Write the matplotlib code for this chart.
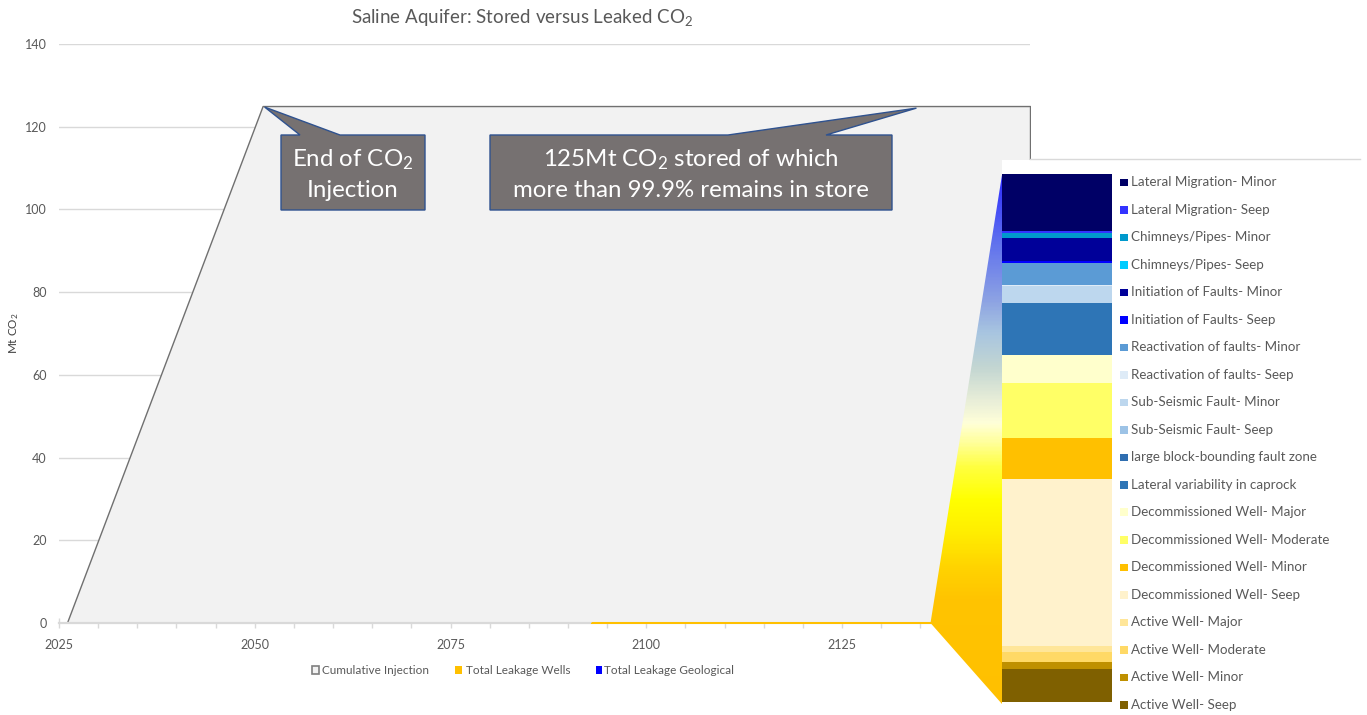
import numpy as np
import matplotlib
matplotlib.use("Agg")
import matplotlib.pyplot as plt
from matplotlib.patches import Polygon, Rectangle
from matplotlib.colors import LinearSegmentedColormap

plt.rcParams['font.family'] = ['Lato', 'DejaVu Sans']
plt.rcParams['mathtext.default'] = 'regular'

W, H = 1367, 715

# Cumulative CO2 injected into the saline aquifer (Mt CO2)
inj_years = [2026, 2051, 2149]
inj_mt = [0, 125, 125]

# Cumulative leakage (Mt CO2)
wells_years = [2093, 2149]
wells_mt = [0.0, 0.066]
geo_years = [2110, 2149]
geo_mt = [0.0, 0.034]

x_labels = [2025, 2050, 2075, 2100, 2125]
y_ticks = [0, 20, 40, 60, 80, 100, 120, 140]

# Leakage breakdown by pathway (kt CO2), bottom of the stack first
pathways = [
    "Active Well- Seep", "Active Well- Minor", "Active Well- Moderate",
    "Active Well- Major", "Decommissioned Well- Seep",
    "Decommissioned Well- Minor", "Decommissioned Well- Moderate",
    "Decommissioned Well- Major", "Lateral variability in caprock",
    "large block-bounding fault zone", "Sub-Seismic Fault- Seep",
    "Sub-Seismic Fault- Minor", "Reactivation of faults- Seep",
    "Reactivation of faults- Minor", "Initiation of Faults- Seep",
    "Initiation of Faults- Minor", "Chimneys/Pipes- Seep",
    "Chimneys/Pipes- Minor", "Lateral Migration- Seep",
    "Lateral Migration- Minor",
]
leak_kt = [6.1, 1.4, 1.9, 1.1, 31.6, 7.9, 10.3, 5.4, 9.7, 0.06, 0.1,
           3.1, 0.3, 4.1, 0.3, 4.35, 0.06, 0.95, 0.44, 10.7]
pathway_colors = [
    "#7F6000", "#BF9000", "#FFD966", "#FFE699", "#FFF2CC", "#FFC000",
    "#FFFF66", "#FFFFCC", "#2E75B6", "#2F6EB0", "#9DC3E6", "#BDD7EE",
    "#DEEBF7", "#5B9BD5", "#0000FF", "#000099", "#00CCFF", "#0099CC",
    "#3333FF", "#000066",
]

GREY_TXT = "#595959"

fig = plt.figure(figsize=(W / 100, H / 100), dpi=100)
fig.patch.set_facecolor("white")


def px_box(x0, y0, x1, y1):
    """Figure-fraction rect from pixel corners (y measured from top)."""
    return [x0 / W, 1 - y1 / H, (x1 - x0) / W, (y1 - y0) / H]


# ---- main time-series chart -------------------------------------------
ax = fig.add_axes(px_box(59, 44, 1030, 623))
ax.set_xlim(2025, 2149)
ax.set_ylim(0, 140)
ax.set_facecolor("none")

ax.fill_between(inj_years, inj_mt, facecolor="#F2F2F2", edgecolor="#707070",
                lw=1.0, zorder=2)
ax.fill_between(geo_years, geo_mt, facecolor="#0000FF", edgecolor="#0000FF",
                lw=1.0, zorder=3)
ax.fill_between(wells_years, wells_mt, facecolor="#FFC000", edgecolor="#FFC000",
                lw=1.6, zorder=4)

ax.set_yticks(y_ticks)
ax.yaxis.grid(True, color="#D9D9D9", lw=1.0)
ax.set_axisbelow(True)
ax.tick_params(axis="y", length=0, labelsize=9, labelcolor=GREY_TXT, pad=9)

minor_years = list(range(2025, 2146, 5))
ax.set_xticks(minor_years)
ax.set_xticklabels([str(y) if y in x_labels else "" for y in minor_years])
ax.tick_params(axis="x", direction="inout", length=7, width=1, color="#D9D9D9",
               labelsize=9, labelcolor=GREY_TXT, pad=8)
for s in ("top", "right", "left"):
    ax.spines[s].set_visible(False)
ax.spines["bottom"].set_color("#D9D9D9")
ax.spines["bottom"].set_linewidth(1.6)
ax.spines["bottom"].set_zorder(3)

fig.text(522 / W, 1 - 17 / H, "Saline Aquifer: Stored versus Leaked CO$_2$",
         ha="center", va="center", fontsize=13.5, color=GREY_TXT)
fig.text(14 / W, 1 - 333 / H, "Mt CO$_2$", rotation=90, ha="center",
         va="center", fontsize=8.5, color="#404040")

# ---- overlay in pixel coordinates for callouts, zoom wedge, legends -----
ov = fig.add_axes([0, 0, 1, 1], zorder=5)
ov.set_xlim(0, W)
ov.set_ylim(H, 0)
ov.axis("off")
ov.patch.set_alpha(0)


def data_to_px(x, y):
    dx, dy = ax.transData.transform((x, y))
    return dx, H - dy


# callout tips sit on the stored-CO2 plateau
tip1 = data_to_px(inj_years[1], inj_mt[1])
tip2 = data_to_px(2134.5, inj_mt[2] - 0.5)

box_fc, box_ec = "#767171", "#2F528F"
call1 = [(281, 135), (300, 135), (tip1[0] + 2, tip1[1] + 1), (340, 135),
         (425, 135), (425, 210), (281, 210)]
call2 = [(490, 135), (728, 135), tip2, (826, 135), (892, 135), (892, 210),
         (490, 210)]
for pts in (call1, call2):
    ov.add_patch(Polygon(pts, closed=True, facecolor=box_fc, edgecolor=box_ec,
                         lw=1.0, zorder=3))

fs_call = 17.3
ov.text(353, 166, "End of CO$_2$", ha="center", va="baseline", fontsize=fs_call,
        color="white", zorder=4)
ov.text(353, 197, "Injection", ha="center", va="baseline", fontsize=fs_call,
        color="white", zorder=4)
ov.text(691, 166, "125Mt CO$_2$ stored of which", ha="center", va="baseline",
        fontsize=fs_call, color="white", zorder=4)
ov.text(691, 197, "more than 99.9% remains in store", ha="center",
        va="baseline", fontsize=fs_call, color="white", zorder=4)

# white panel behind the breakdown bar
ov.add_patch(Rectangle((1002, 160), W - 1002, H - 160, facecolor="white",
                       edgecolor="none", zorder=1))
ov.plot([1030, 1360], [158.5, 158.5], color="#D9D9D9", lw=1, zorder=1)

# zoom wedge linking the base of the chart to the breakdown bar
wedge_pts = [(1002, 175), (930.5, 623), (1002, 704)]
stops = [(175, "#2B2BFF"), (240, "#5F70EE"), (300, "#8DA3E3"),
         (333, "#A9C6E0"), (367, "#C3D6D2"), (400, "#E8EED8"),
         (423, "#FFFFD8"), (443, "#FFFF99"), (467, "#FFFF40"),
         (500, "#FFFF00"), (533, "#FFEE00"), (567, "#FFD400"),
         (600, "#FFC400"), (704, "#FFC000")]
y0s, y1s = stops[0][0], stops[-1][0]
cmap = LinearSegmentedColormap.from_list(
    "wedge", [((y - y0s) / (y1s - y0s), c) for y, c in stops])
grad = np.linspace(0, 1, 400).reshape(-1, 1)
img = ov.imshow(grad, cmap=cmap, aspect="auto", extent=(928, 1004, 704, 175),
                interpolation="bilinear", zorder=2)
wedge = Polygon(wedge_pts, closed=True, facecolor="none", edgecolor="none",
                transform=ov.transData)
ov.add_patch(wedge)
img.set_clip_path(wedge)
ov.set_xlim(0, W)
ov.set_ylim(H, 0)

# legend of pathways, top of the stack first
n = len(pathways)
for i, idx in enumerate(range(n - 1, -1, -1)):
    yc = 182.3 + i * 27.5
    ov.add_patch(Rectangle((1120, yc - 3.8), 7.5, 7.5,
                           facecolor=pathway_colors[idx], edgecolor="none",
                           zorder=3))
    ov.text(1131, yc, pathways[idx], ha="left", va="center", fontsize=9.6,
            color=GREY_TXT, zorder=3)

# bottom legend of the main chart
ov.add_patch(Rectangle((311.5, 666), 7, 8, facecolor="#F2F2F2",
                       edgecolor="#7F7F7F", lw=1.2, zorder=3))
ov.text(322, 670, "Cumulative Injection", ha="left", va="center",
        fontsize=8.5, color=GREY_TXT)
ov.add_patch(Rectangle((455, 666), 7, 8, facecolor="#FFC000",
                       edgecolor="none", zorder=3))
ov.text(466, 670, "Total Leakage Wells", ha="left", va="center",
        fontsize=8.5, color=GREY_TXT)
ov.add_patch(Rectangle((596, 666), 6, 8, facecolor="#0000FF",
                       edgecolor="none", zorder=3))
ov.text(604, 670, "Total Leakage Geological", ha="left", va="center",
        fontsize=8.5, color=GREY_TXT)

# ---- stacked breakdown bar ---------------------------------------------
bx = fig.add_axes(px_box(1002, 174.3, 1112.3, 701.7), zorder=6)
bottom = 0.0
for val, col in zip(leak_kt, pathway_colors):
    bx.bar(0, val, bottom=bottom, width=1.0, color=col, edgecolor="none")
    bottom += val
bx.set_xlim(-0.5, 0.5)
bx.set_ylim(0, sum(leak_kt))
bx.axis("off")

fig.savefig("out.png", dpi=100, facecolor="white")
